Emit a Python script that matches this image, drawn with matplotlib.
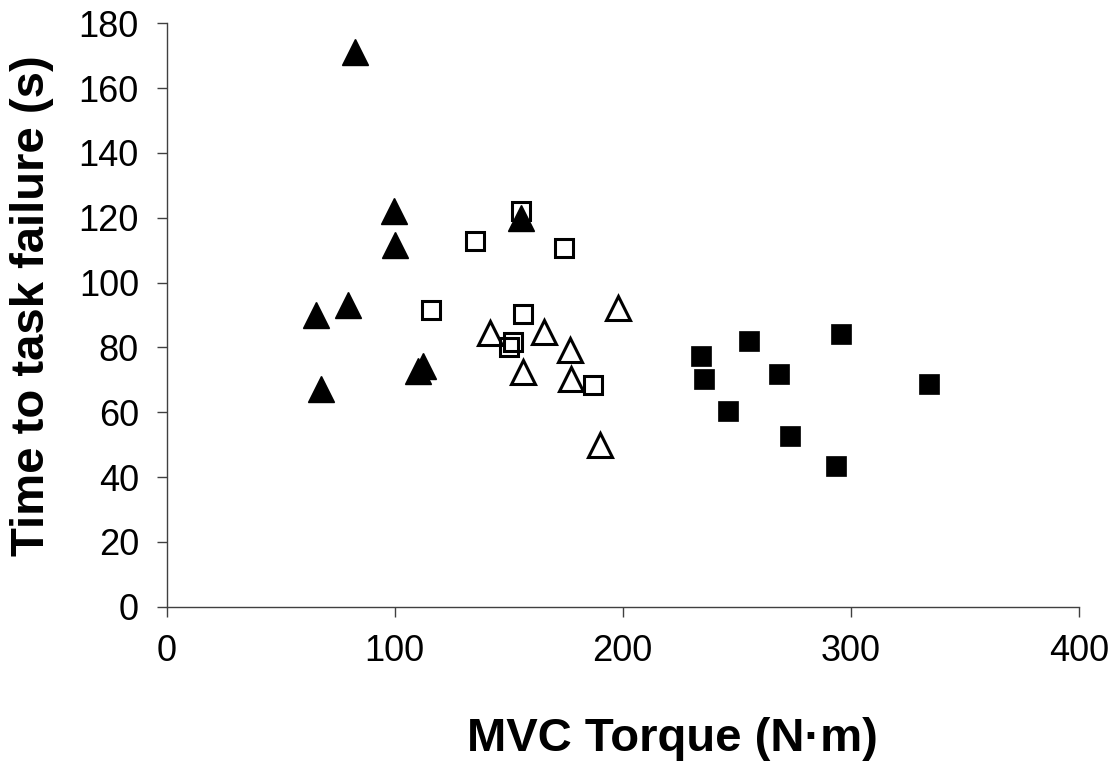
import matplotlib.pyplot as plt

plt.rcParams['font.family'] = ['Liberation Sans', 'DejaVu Sans']

# filled triangles
tri_fill_x = [82.7, 99.6, 100.3, 65.5, 79.4, 110.1, 112.5, 67.7, 155.4]
tri_fill_y = [171.0, 122.0, 111.7, 89.9, 93.2, 72.8, 74.4, 67.1, 119.8]

# open squares
sq_open_x = [155.4, 135.1, 174.4, 115.9, 156.3, 151.9, 150.3, 186.8]
sq_open_y = [122.0, 112.9, 110.6, 91.6, 90.3, 81.7, 80.2, 68.3]

# open triangles
tri_open_x = [141.8, 165.5, 176.8, 156.4, 177.5, 197.9, 190.0]
tri_open_y = [84.5, 84.9, 79.2, 72.5, 70.1, 92.3, 50.0]

# filled squares
sq_fill_x = [234.5, 235.7, 255.4, 246.3, 268.7, 273.4, 295.8, 293.6, 334.5]
sq_fill_y = [77.4, 70.2, 82.1, 60.4, 71.8, 52.8, 84.0, 43.4, 68.6]

fig = plt.figure(figsize=(11.2, 7.65), dpi=100)
ax = fig.add_axes([166.7 / 1120, (765 - 606.7) / 765,
                   (1078.7 - 166.7) / 1120, (606.7 - 23.3) / 765])

ax.plot(sq_fill_x, sq_fill_y, 's', color='black', ms=14, mew=0.5, ls='none')
ax.plot(tri_open_x, tri_open_y, '^', color='black', ms=17.5, mew=2.2,
        fillstyle='none', ls='none')
ax.plot(sq_open_x, sq_open_y, 's', color='black', ms=13, mew=2.2,
        fillstyle='none', ls='none')
ax.plot(tri_fill_x, tri_fill_y, '^', color='black', ms=19, mew=1, ls='none')

ax.set_xlim(0, 400)
ax.set_ylim(0, 180)
ax.set_xticks([0, 100, 200, 300, 400])
ax.set_yticks(range(0, 181, 20))

for s in ['top', 'right']:
    ax.spines[s].set_visible(False)
for s in ['left', 'bottom']:
    ax.spines[s].set_color('#404040')
    ax.spines[s].set_linewidth(1)

ax.tick_params(direction='out', length=7, width=1, color='#404040',
               labelsize=26, pad=13)

fig.text(672.5 / 1120, 1 - 739 / 765, 'MVC Torque (N\u00b7m)', fontsize=34,
         fontweight='bold', ha='center', va='center')
fig.text(32 / 1120, 1 - 306 / 765, 'Time to task failure (s)', fontsize=34,
         fontweight='bold', ha='center', va='center', rotation=90)

fig.savefig('out.png', dpi=100)
